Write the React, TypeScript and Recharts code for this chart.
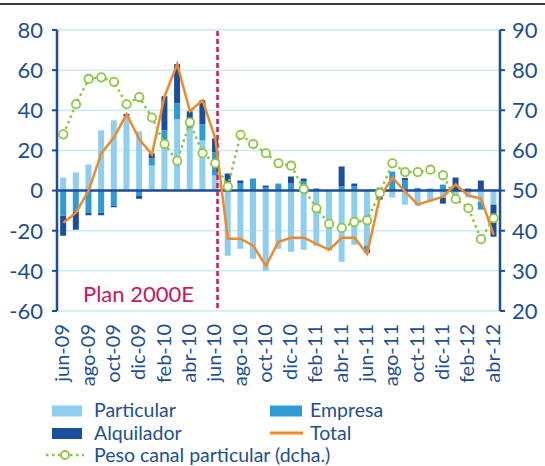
import React from "react";
import {
  ComposedChart,
  Bar,
  Line,
  XAxis,
  YAxis,
  CartesianGrid,
  ReferenceLine,
} from "recharts";

// months jun-09 .. abr-12
const months = [
  "jun-09", "jul-09", "ago-09", "sep-09", "oct-09", "nov-09", "dic-09",
  "ene-10", "feb-10", "mar-10", "abr-10", "may-10", "jun-10", "jul-10",
  "ago-10", "sep-10", "oct-10", "nov-10", "dic-10", "ene-11", "feb-11",
  "mar-11", "abr-11", "may-11", "jun-11", "jul-11", "ago-11", "sep-11",
  "oct-11", "nov-11", "dic-11", "ene-12", "feb-12", "mar-12", "abr-12",
];

const particular = [
  6.5, 9, 13, 30, 35, 37, 29.5, 12.5, 25, 35.5, 31, 25, 7.5, -32.5,
  -29, -34, -40, -29, -30.5, -29.5, -27.5, -28.5, -35.5, -27, -27.5, -2.5,
  -3.5, -7, -7.5, -5.5, -3.5, -3, -3.5, -5.5, -7,
];

const empresa = [
  -12.5, -10.5, -11, -11, -7.5, 0, -2.5, 3.5, 5, 8, 4, 8, 11.5, 4,
  3.5, 6, 1.5, 3.5, 3.5, 4.5, 0, 0, 2, 2, -2, 1.5,
  9.5, 5, 1.3, 1, 3, 0, 0, -4, 0,
];

const alquilador = [
  -10, -9, -1.3, -1.3, -0.8, 1.2, -1.6, 2.5, 17, 19.5, 4.5, 12, 7, 4.5,
  1.5, 0, 1, 0, 3.5, 1.5, 1, -1, 10, 1.5, -1.5, -2,
  0, 1.3, 0, 0, -3, 6.5, 1, 5, -16,
];

const total = [
  -16, -11, 0, 18.5, 26.5, 38, 25.5, 18, 47, 63, 39.5, 45, 26, -24,
  -24, -27.5, -37.5, -25.5, -23.5, -23.5, -26.5, -29.5, -23.5, -23.5, -31.5, -3.5,
  6.5, -0.5, -7, -5, -3, 3, -2.5, -4, -22,
];

// right axis, %
const pesoParticular = [
  64, 71.5, 77.8, 78.2, 77.1, 71.5, 73.3, 68.2, 61.6, 57.4, 67, 59.3, 56.8, 51,
  63.9, 61.6, 59.3, 56.8, 56.2, 50.4, 45.6, 41.7, 40.7, 42.2, 42.6, 49.4,
  56.8, 54.6, 54.6, 55.2, 53.8, 47.9, 45.6, 37.9, 43.1,
];

const leftTicks = [-60, -40, -20, 0, 20, 40, 60, 80];
const rightTicks = [20, 30, 40, 50, 60, 70, 80, 90];

const data = months.map((m, i) => ({
  month: m,
  particular: particular[i],
  empresa: empresa[i],
  alquilador: alquilador[i],
  total: total[i],
  peso: pesoParticular[i],
}));

const BLUE_TXT = "#1d4f91";
const AXIS = "#1f4e96";
const C_PART = "#8ecff0";
const C_EMP = "#2f9bd5";
const C_ALQ = "#1b4f9c";
const C_TOTAL = "#f0892a";
const C_PESO = "#8dc63f";
const FONT = "Lato, sans-serif";

const XTick = (props: any) => {
  const { x, y, payload } = props;
  const ty = y + 13;
  return (
    <text
      x={x - 2}
      y={ty}
      transform={`rotate(-90 ${x - 2} ${ty})`}
      textAnchor="end"
      dominantBaseline="central"
      fontSize={20}
      fontFamily={FONT}
      fill={BLUE_TXT}
    >
      {payload.value}
    </text>
  );
};

const PesoDot = (props: any) => {
  const { cx, cy, index } = props;
  return (
    <circle
      key={`d-${index}`}
      cx={cx}
      cy={cy}
      r={4.2}
      fill="#fff"
      stroke={C_PESO}
      strokeWidth={1.8}
    />
  );
};

const PlanLine = (props: any) => {
  const { x1, y1, x2, y2 } = props;
  return (
    <line
      x1={x1 - 4}
      x2={x2 - 4}
      y1={y1 - 3}
      y2={y2}
      stroke="#d1135f"
      strokeWidth={2.5}
      strokeDasharray="5 3"
    />
  );
};

const App = () => {
  return (
    <div
      style={{
        position: "absolute",
        left: 0,
        top: 0,
        width: 545,
        height: 466,
        background: "#fff",
        fontFamily: FONT,
      }}
    >
      <div
        style={{
          position: "absolute",
          left: 0,
          top: 3,
          width: 545,
          height: 2,
          background: "#3a3a3a",
        }}
      />
      <ComposedChart
        width={545}
        height={391}
        data={data}
        stackOffset="sign"
        barCategoryGap="25%"
        margin={{ top: 30, right: 0, left: 7, bottom: 0 }}
      >
        <CartesianGrid
          vertical={false}
          stroke="#cde9f7"
          strokeWidth={1.5}
          yAxisId="left"
        />
        <XAxis
          dataKey="month"
          interval={1}
          height={80}
          tick={<XTick />}
          tickSize={0}
          tickMargin={0}
          axisLine={false}
          tickLine={false}
        />
        <YAxis
          yAxisId="left"
          domain={[-60, 80]}
          ticks={leftTicks}
          width={50}
          tickSize={5}
          tickMargin={9}
          axisLine={{ stroke: AXIS, strokeWidth: 2.5 }}
          tickLine={{ stroke: AXIS, strokeWidth: 2 }}
          tick={{ fill: BLUE_TXT, fontSize: 22, fontFamily: FONT }}
        />
        <YAxis
          yAxisId="right"
          orientation="right"
          domain={[20, 90]}
          ticks={rightTicks}
          width={45}
          tickSize={5}
          tickMargin={7}
          axisLine={{ stroke: AXIS, strokeWidth: 2.5 }}
          tickLine={{ stroke: AXIS, strokeWidth: 2 }}
          tick={{ fill: BLUE_TXT, fontSize: 22, fontFamily: FONT }}
        />
        <Bar yAxisId="left" dataKey="particular" stackId="s" fill={C_PART} isAnimationActive={false} />
        <Bar yAxisId="left" dataKey="empresa" stackId="s" fill={C_EMP} isAnimationActive={false} />
        <Bar yAxisId="left" dataKey="alquilador" stackId="s" fill={C_ALQ} isAnimationActive={false} />
        <ReferenceLine yAxisId="left" y={0} stroke={AXIS} strokeWidth={2.5} />
        <ReferenceLine
          yAxisId="left"
          x="jun-10"
          position="end"
          shape={<PlanLine />}
        />
        <Line
          yAxisId="left"
          dataKey="total"
          stroke={C_TOTAL}
          strokeWidth={2.5}
          dot={false}
          isAnimationActive={false}
        />
        <Line
          yAxisId="right"
          dataKey="peso"
          stroke={C_PESO}
          strokeWidth={2.5}
          strokeDasharray="2.5 3.5"
          dot={<PesoDot />}
          isAnimationActive={false}
        />
      </ComposedChart>
      <svg
        width={545}
        height={466}
        style={{ position: "absolute", left: 0, top: 0, pointerEvents: "none" }}
        fontFamily={FONT}
      >
        <text x={83} y={302} fontSize={22} fill="#c8175d">
          Plan 2000E
        </text>
        <rect x={52} y={405.5} width={30} height={11} fill={C_PART} />
        <text x={94} y={417} fontSize={19.5} fill={BLUE_TXT}>Particular</text>
        <rect x={270} y={405.5} width={32} height={11} fill={C_EMP} />
        <text x={310} y={417} fontSize={19.5} fill={BLUE_TXT}>Empresa</text>
        <rect x={52} y={428} width={30} height={11} fill={C_ALQ} />
        <text x={94} y={439.5} fontSize={19.5} fill={BLUE_TXT}>Alquilador</text>
        <line x1={270} x2={303} y1={433} y2={433} stroke={C_TOTAL} strokeWidth={3} />
        <text x={310} y={439.5} fontSize={19.5} fill={BLUE_TXT}>Total</text>
        <line
          x1={46}
          x2={84}
          y1={455}
          y2={455}
          stroke={C_PESO}
          strokeWidth={2.5}
          strokeDasharray="2.5 3.5"
        />
        <circle cx={65} cy={455} r={4} fill="#fff" stroke={C_PESO} strokeWidth={1.8} />
        <text x={94} y={461.5} fontSize={19.5} fill={BLUE_TXT}>
          Peso canal particular (dcha.)
        </text>
      </svg>
    </div>
  );
};

export default App;
